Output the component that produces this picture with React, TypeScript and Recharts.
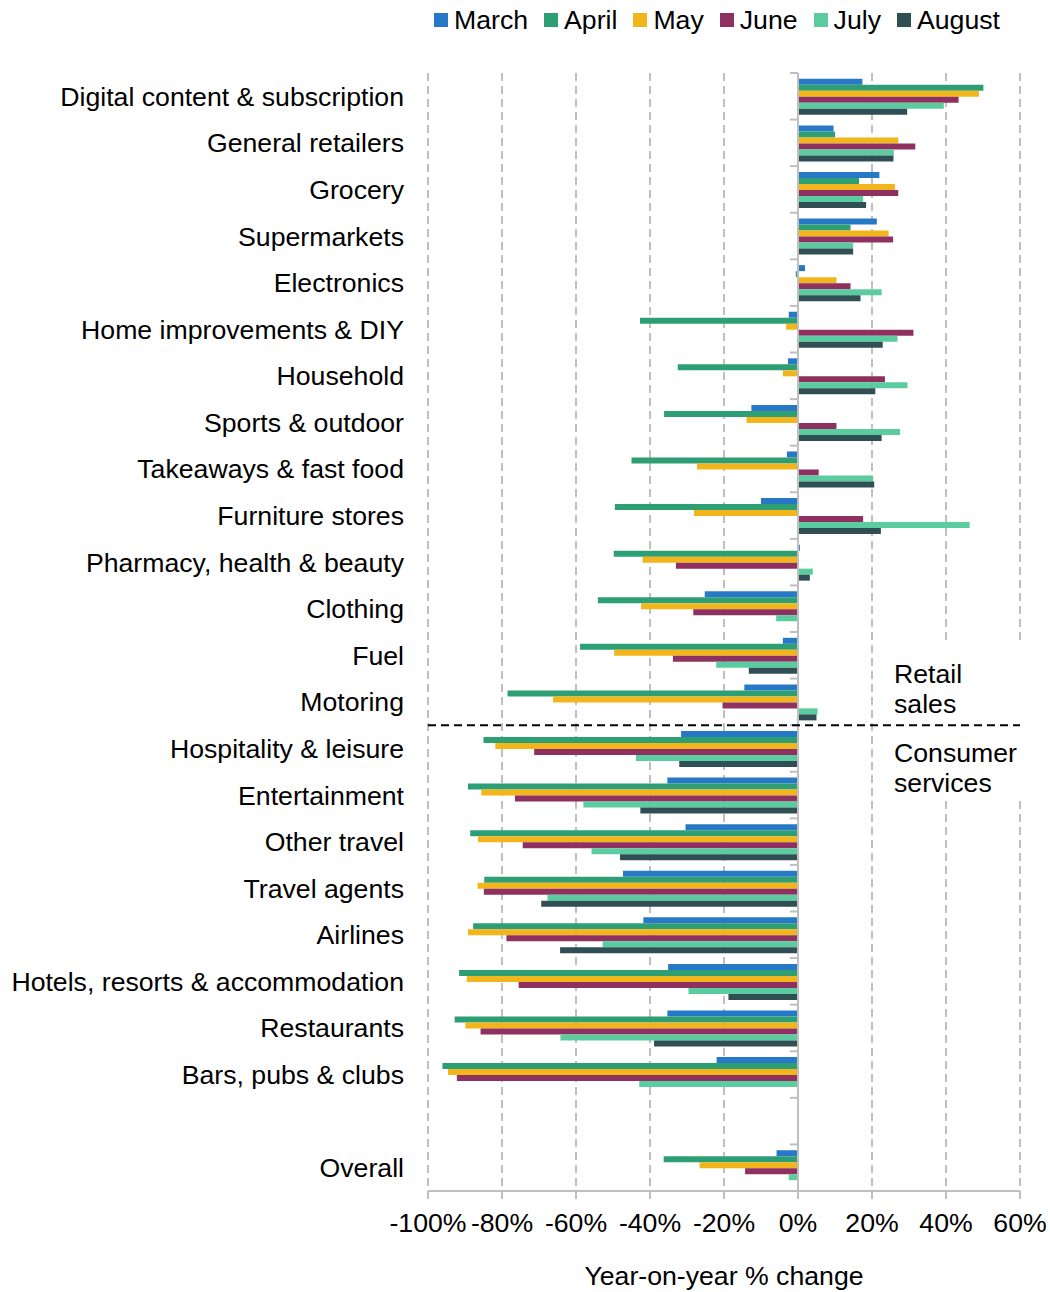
import { BarChart, Bar, XAxis, YAxis, CartesianGrid, ReferenceLine, ReferenceArea } from "recharts";

const categories = [
  "Digital content & subscription", "General retailers", "Grocery", "Supermarkets", "Electronics",
  "Home improvements & DIY", "Household", "Sports & outdoor", "Takeaways & fast food", "Furniture stores",
  "Pharmacy, health & beauty", "Clothing", "Fuel", "Motoring", "Hospitality & leisure", "Entertainment",
  "Other travel", "Travel agents", "Airlines", "Hotels, resorts & accommodation", "Restaurants",
  "Bars, pubs & clubs", "", "Overall",
];

const march = [17.4, 9.6, 22.0, 21.3, 1.9, -2.5, -2.7, -12.6, -3.0, -10.0, 0.5, -25.2, -4.1, -14.5, -31.6, -35.3, -30.4, -47.3, -41.8, -35.1, -35.3, -22.0, null, -5.8];
const april = [50.1, 10.0, 16.5, 14.2, -0.6, -42.7, -32.5, -36.2, -45.0, -49.5, -49.8, -54.1, -58.9, -78.5, -85.0, -89.2, -88.6, -84.8, -87.8, -91.6, -92.8, -96.1, null, -36.3];
const may = [48.9, 27.1, 26.2, 24.5, 10.4, -3.2, -4.1, -13.9, -27.3, -28.1, -42.0, -42.4, -49.7, -66.2, -81.8, -85.6, -86.5, -86.6, -89.2, -89.5, -89.9, -94.6, null, -26.6];
const june = [43.4, 31.7, 27.1, 25.7, 14.2, 31.2, 23.5, 10.4, 5.6, 17.6, -33.0, -28.3, -33.8, -20.4, -71.3, -76.5, -74.4, -84.9, -78.8, -75.5, -85.8, -92.2, null, -14.3];
const july = [39.4, 25.9, 17.6, 14.9, 22.6, 26.9, 29.6, 27.6, 20.3, 46.4, 4.0, -5.9, -22.1, 5.3, -43.8, -58.0, -55.8, -67.7, -52.8, -29.6, -64.2, -42.9, null, -2.5];
const august = [29.5, 25.8, 18.4, 14.9, 16.9, 22.9, 20.9, 22.6, 20.6, 22.4, 3.2, null, -13.3, 5.0, -32.1, -42.6, -48.1, -69.4, -64.3, -18.8, -38.9, null, null, null];

const xTicks = [-100, -80, -60, -40, -20, 0, 20, 40, 60];

const series = [
  { key: "March", values: march, color: "#2878c8" },
  { key: "April", values: april, color: "#2e9e74" },
  { key: "May", values: may, color: "#f2b51b" },
  { key: "June", values: june, color: "#8e3160" },
  { key: "July", values: july, color: "#5bcca0" },
  { key: "August", values: august, color: "#304f55" },
];

const data = categories.map((name, i) => {
  const row: Record<string, string | number | null> = { name };
  series.forEach((s) => { row[s.key] = s.values[i]; });
  return row;
});

const font = "'Liberation Sans', Arial, sans-serif";
const fs = 26.67;
const gray = "#bfbfbf";

// white panel behind the Retail / Consumer notes, trimmed a little inside the bands
const NotePanel = (p: any) => (
  <rect x={p.x} y={p.y + 12} width={p.width} height={p.height - 30} fill="#fff" />
);

export default function App() {
  return (
    <div style={{ position: "absolute", top: 0, left: 0, width: 1050, height: 1292, background: "#fff", fontFamily: font }}>
      {/* legend */}
      <div style={{ position: "absolute", top: 0, left: 434, height: 40, display: "flex", alignItems: "center", fontSize: fs, lineHeight: "40px", color: "#000" }}>
        {series.map((s) => (
          <div key={s.key} style={{ display: "flex", alignItems: "center", marginRight: 16 }}>
            <span style={{ width: 14, height: 14, background: s.color, marginRight: 6, display: "inline-block" }} />
            <span>{s.key}</span>
          </div>
        ))}
      </div>

      <BarChart
        width={1050}
        height={1292}
        data={data}
        layout="vertical"
        margin={{ top: 73, right: 30, bottom: 41, left: 0 }}
        barCategoryGap={5.8}
        barGap={0}
      >
        <CartesianGrid horizontal={false} vertical stroke={gray} strokeWidth={2} strokeDasharray="8 5" yAxisId="cat" />
        <XAxis
          type="number"
          domain={[-100, 60]}
          ticks={xTicks}
          interval={0}
          tickFormatter={(v) => `${v}%`}
          tick={{ fontSize: fs, fill: "#000", fontFamily: font }}
          axisLine={{ stroke: gray, strokeWidth: 2 }}
          tickLine={{ stroke: gray, strokeWidth: 2 }}
          tickSize={8}
          tickMargin={14}
          height={60}
          label={{ value: "Year-on-year % change", position: "bottom", offset: 15, fontSize: fs, fill: "#000", fontFamily: font }}
        />
        <YAxis
          yAxisId="cat"
          type="category"
          dataKey="name"
          width={428}
          interval={0}
          axisLine={false}
          tickLine={false}
          tickSize={0}
          tickMargin={24}
          tick={{ fontSize: fs, fill: "#000", fontFamily: font }}
        />

        <ReferenceArea yAxisId="cat" x1={24} x2={62} y1="Fuel" y2="Entertainment" ifOverflow="visible" shape={NotePanel} />

        {series.map((s) => (
          <Bar key={s.key} yAxisId="cat" dataKey={s.key} fill={s.color} isAnimationActive={false} />
        ))}

        <ReferenceLine yAxisId="cat" x={0} stroke={gray} strokeWidth={2} />
        {categories.map((c, i) => (
          <ReferenceLine key={`b${i}`} yAxisId="cat" position="start" segment={[{ x: -2.2, y: c }, { x: 0, y: c }]} stroke={gray} strokeWidth={2} />
        ))}
        <ReferenceLine yAxisId="cat" position="start" y="Hospitality & leisure" stroke="#000" strokeWidth={2} strokeDasharray="8 5" />
      </BarChart>

      <div style={{ position: "absolute", left: 894, top: 659, fontSize: fs, lineHeight: "30px", color: "#000" }}>
        Retail<br />sales
      </div>
      <div style={{ position: "absolute", left: 894, top: 738, fontSize: fs, lineHeight: "30px", color: "#000" }}>
        Consumer<br />services
      </div>
    </div>
  );
}
